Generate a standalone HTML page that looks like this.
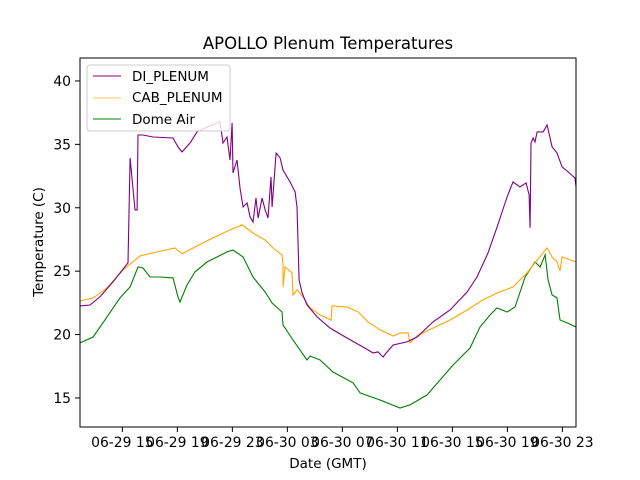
<!DOCTYPE html>
<html><head><meta charset="utf-8"><style>body{margin:0;background:#fff}svg{display:block;font-family:"DejaVu Sans","Liberation Sans",sans-serif}</style></head>
<body>
<svg id="chart" width="640" height="480" viewBox="0 0 640 480" xmlns="http://www.w3.org/2000/svg">
<rect x="0" y="0" width="640" height="480" fill="#fff"/>
<text x="328" y="49" text-anchor="middle" font-size="16.5">APOLLO Plenum Temperatures</text>
<g id="plot"></g>
<rect x="80" y="58" width="496" height="369" fill="none" stroke="#000" stroke-width="1"/>
<g id="axes"></g>
<text x="328" y="468" text-anchor="middle" font-size="13.5">Date (GMT)</text>
<text x="43" y="242" text-anchor="middle" font-size="13.5" transform="rotate(-90 43 242)">Temperature (C)</text>
<g>
<rect x="87" y="65" width="143" height="66" rx="3" fill="#fff" fill-opacity="0.8" stroke="#ccc"/>
<line x1="93" y1="76" x2="121" y2="76" stroke="purple" stroke-width="1"/>
<text x="132" y="81" font-size="13.5">DI_PLENUM</text>
<line x1="93" y1="98" x2="121" y2="98" stroke="orange" stroke-opacity="0.6" stroke-width="1"/>
<text x="132" y="102" font-size="13.5">CAB_PLENUM</text>
<line x1="93" y1="119" x2="121" y2="119" stroke="green" stroke-width="1"/>
<text x="132" y="124" font-size="13.5">Dome Air</text>
</g>
</svg>
<script>
const xTicks=[15,19,23,27,31,35,39,43,47];
const xTickLabels=["06-29 15","06-29 19","06-29 23","06-30 03","06-30 07","06-30 11","06-30 15","06-30 19","06-30 23"];
const yTicks=[15,20,25,30,35,40];
const diHours=[11.92,12.65,13.37,14.32,15.41,15.56,15.78,15.92,16.07,16.14,16.5,17.23,18.68,19.05,19.34,19.92,20.43,21.16,22.1,22.32,22.61,22.83,22.98,23.05,23.34,23.56,23.78,24.07,24.29,24.5,24.72,24.87,25.16,25.38,25.59,25.81,25.89,26.18,26.47,26.68,27.19,27.56,27.7,27.85,28.07,28.43,29.16,30.1,31.34,32.5,33.23,33.59,33.96,34.25,34.69,35.7,36.43,37.59,38.83,40.07,40.79,41.59,42.25,42.98,43.41,43.92,44.36,44.58,44.65,44.72,44.87,45.01,45.16,45.6,45.89,46.25,46.61,46.98,47.34,47.92,47.99];
const diTemps=[22.26,22.33,22.97,24.15,25.65,33.93,31.4,29.83,29.83,35.74,35.74,35.58,35.5,34.8,34.4,35.11,35.98,36.37,36.77,35.11,35.58,33.77,36.69,32.75,33.77,31.5,30.06,30.38,29.27,28.88,30.77,29.2,30.77,29.83,29.2,32.43,30.06,34.32,33.93,32.98,32.04,31.25,30.06,24.31,23.28,22.34,21.39,20.52,19.73,19.02,18.55,18.63,18.23,18.63,19.18,19.42,19.81,21.0,21.94,23.36,24.54,26.44,28.49,30.85,32.04,31.64,31.96,31.01,28.41,35.11,35.5,35.19,35.98,35.98,36.53,34.8,34.32,33.22,32.9,32.35,31.64];
const cabHours=[11.92,12.87,13.88,15.05,16.29,17.52,18.83,19.34,20.14,21.59,22.83,23.7,24.5,25.38,25.96,26.61,26.68,26.69,26.83,27.34,27.41,27.7,28.14,28.65,29.38,30.18,30.25,31.34,32.14,32.87,33.74,34.69,35.19,35.78,35.92,36.43,37.59,38.83,40.07,41.23,42.25,43.41,44.43,45.16,45.89,46.25,46.61,46.83,46.98,47.99];
const cabTemps=[22.65,22.89,23.68,25.09,26.2,26.52,26.83,26.36,26.83,27.62,28.25,28.65,28.01,27.46,26.83,26.28,25.65,23.76,25.33,24.86,23.12,23.52,22.97,22.1,21.55,21.15,22.26,22.18,21.79,21.0,20.37,19.89,20.13,20.13,19.34,19.89,20.52,21.15,21.94,22.73,23.28,23.76,24.86,25.88,26.83,26.12,25.73,25.02,26.12,25.73];
const domeHours=[11.92,12.87,13.88,14.83,15.56,16.14,16.5,17.01,17.74,18.68,19.05,19.19,19.7,20.28,21.16,21.88,22.61,23.05,23.78,24.5,25.38,25.89,26.61,26.68,27.41,28.43,28.65,29.38,30.32,31.78,32.29,33.74,35.19,35.92,37.16,38.1,39.05,40.28,41.01,41.74,42.25,42.98,43.56,44.29,45.01,45.38,45.74,45.96,46.25,46.61,46.83,47.34,47.99];
const domeTemps=[19.34,19.81,21.39,22.89,23.76,25.33,25.25,24.54,24.54,24.47,22.97,22.57,23.91,24.94,25.73,26.12,26.52,26.67,26.12,24.54,23.36,22.49,21.78,20.76,19.57,17.99,18.31,17.99,17.05,16.19,15.4,14.84,14.21,14.45,15.24,16.42,17.6,18.94,20.6,21.55,22.1,21.78,22.18,24.54,25.73,25.33,26.28,24.31,23.12,22.89,21.15,20.92,20.6];

const X0=80,X1=576,Y0=427,Y1=58,hMin=11.92,hMax=47.99,tMin=12.71,tMax=41.81;
function sx(h){return X0+(h-hMin)/(hMax-hMin)*(X1-X0);}
function sy(t){return Y0-(t-tMin)/(tMax-tMin)*(Y0-Y1);}
const NS="http://www.w3.org/2000/svg";
const plot=document.getElementById('plot'),axes=document.getElementById('axes');
function line(hs,ts,color,name){
  const p=document.createElementNS(NS,'polyline');
  p.setAttribute('points',hs.map((h,i)=>sx(h).toFixed(1)+','+sy(ts[i]).toFixed(1)).join(' '));
  p.setAttribute('fill','none');p.setAttribute('stroke',color);p.setAttribute('stroke-width','1.1');
  
  
  plot.appendChild(p);
}
line(domeHours,domeTemps,'green','dome-air-line');
line(cabHours,cabTemps,'orange','cab-plenum-line');
line(diHours,diTemps,'purple','di-plenum-line');
xTicks.forEach((h,i)=>{
  const x=sx(h);
  const t=document.createElementNS(NS,'line');
  t.setAttribute('x1',x);t.setAttribute('x2',x);t.setAttribute('y1',427);t.setAttribute('y2',432);t.setAttribute('stroke','#000');
  
  
  axes.appendChild(t);
  const l=document.createElementNS(NS,'text');
  l.setAttribute('x',x);l.setAttribute('y',447);l.setAttribute('text-anchor','middle');l.setAttribute('font-size','13.9');
  l.textContent=xTickLabels[i];
  
  
  axes.appendChild(l);
});
yTicks.forEach(v=>{
  const y=sy(v);
  const t=document.createElementNS(NS,'line');
  t.setAttribute('x1',75);t.setAttribute('x2',80);t.setAttribute('y1',y);t.setAttribute('y2',y);t.setAttribute('stroke','#000');
  
  
  axes.appendChild(t);
  const l=document.createElementNS(NS,'text');
  l.setAttribute('x',71);l.setAttribute('y',y+5);l.setAttribute('text-anchor','end');l.setAttribute('font-size','13.9');
  l.textContent=v;
  
  
  axes.appendChild(l);
});
</script>
</body></html>
